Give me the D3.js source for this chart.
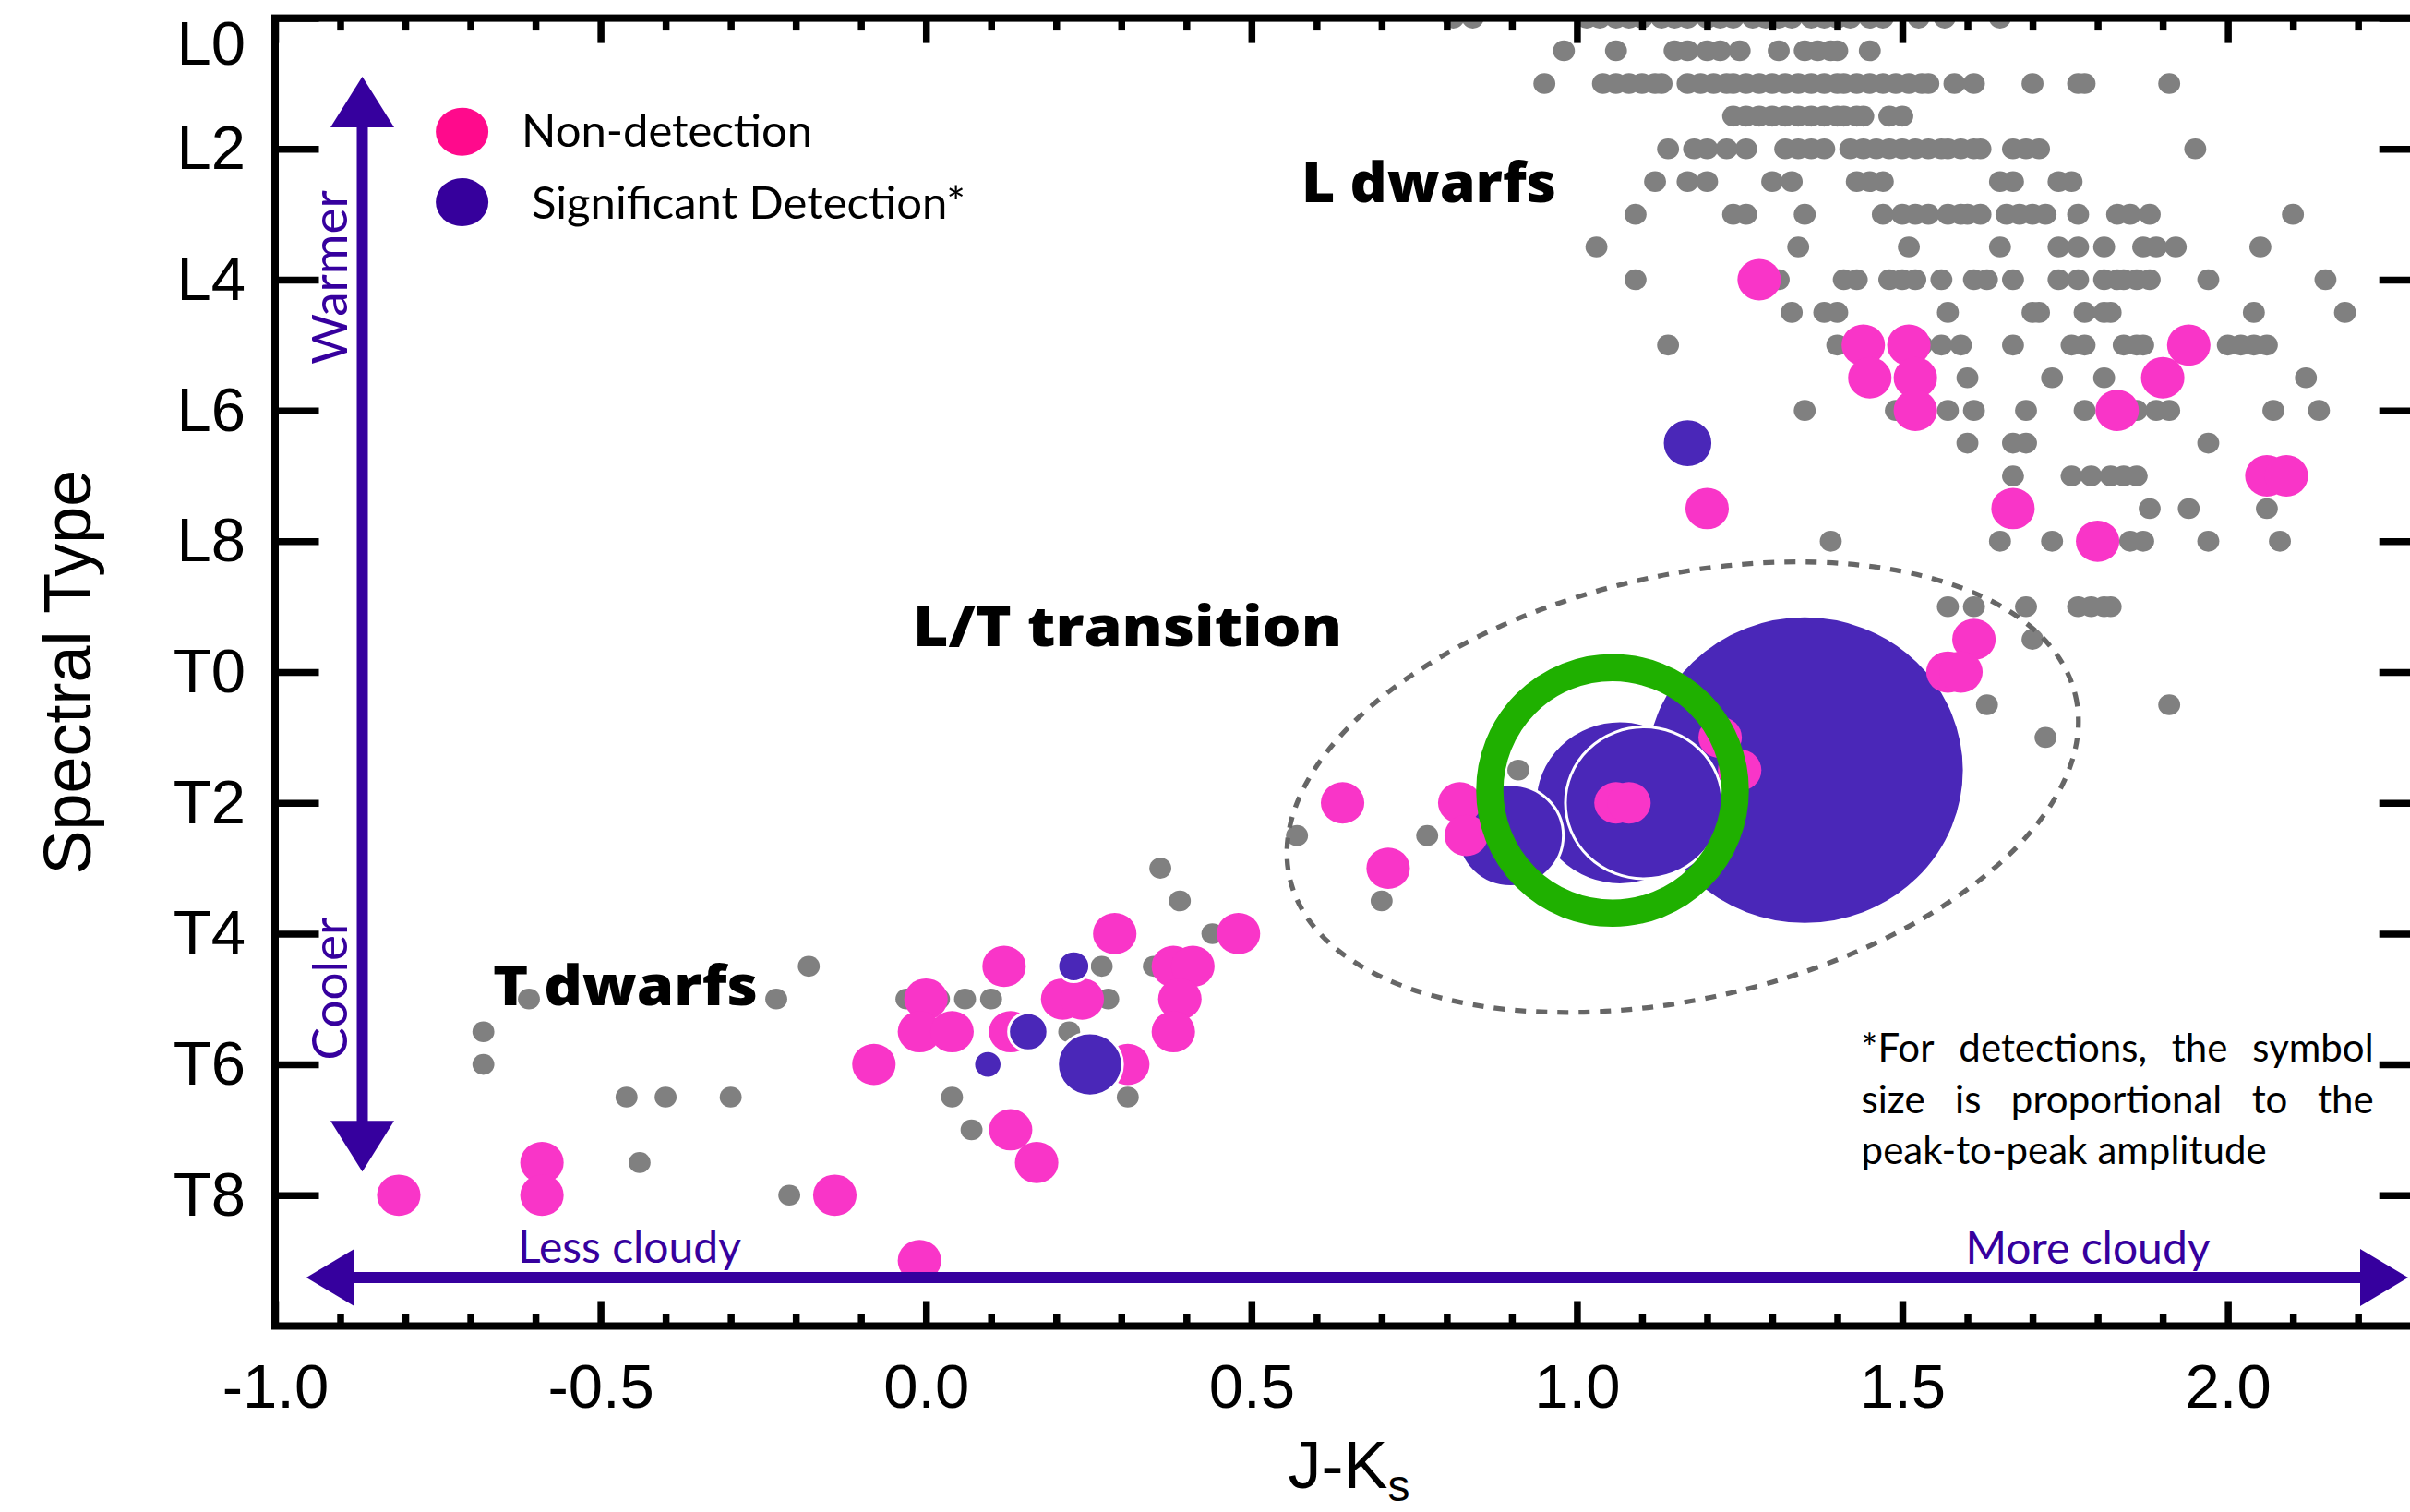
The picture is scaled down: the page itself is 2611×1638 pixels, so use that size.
<!DOCTYPE html>
<html>
<head>
<meta charset="utf-8">
<script src="https://cdn.jsdelivr.net/npm/d3@7"></script>
<style>
  html, body { margin: 0; padding: 0; background: #fff; }
  svg { display: block; }
</style>
</head>
<body>
<svg id="chart" width="2611" height="1638"></svg>
<script>
// ---------------------------------------------------------------------------
// Data: J-Ks colour vs. spectral type (0 = L0, 10 = T0, 18 = T8)
// ---------------------------------------------------------------------------

// Tick labels on the spectral-type axis (every two subtypes)
const sptTicks  = [0, 2, 4, 6, 8, 10, 12, 14, 16, 18];
const sptLabels = ["L0", "L2", "L4", "L6", "L8", "T0", "T2", "T4", "T6", "T8"];

// Colour-axis ticks
const jkMajor = [-1.0, -0.5, 0.0, 0.5, 1.0, 1.5, 2.0];

// Field L and T dwarfs, grouped by spectral type: [SpT, [J-Ks, ...]]
const fieldRows = [
  [0,    [0.81, 0.84, 1.015, 1.035, 1.06, 1.08, 1.10, 1.13, 1.15, 1.17, 1.20, 1.22, 1.24, 1.27, 1.29, 1.31, 1.33, 1.36, 1.38, 1.40, 1.42, 1.45, 1.47, 1.525, 1.565, 1.65]],
  [0.5,  [0.98, 1.06, 1.15, 1.17, 1.20, 1.22, 1.25, 1.31, 1.35, 1.37, 1.39, 1.40, 1.45]],
  [1,    [0.95, 1.04, 1.06, 1.08, 1.10, 1.12, 1.13, 1.17, 1.19, 1.21, 1.23, 1.24, 1.26, 1.28, 1.30, 1.32, 1.34, 1.36, 1.38, 1.40, 1.41, 1.43, 1.45, 1.47, 1.49, 1.51, 1.53, 1.54, 1.58, 1.61, 1.70, 1.77, 1.78, 1.91]],
  [1.5,  [1.24, 1.26, 1.28, 1.30, 1.32, 1.34, 1.36, 1.38, 1.40, 1.41, 1.43, 1.44, 1.48, 1.50]],
  [2,    [1.14, 1.18, 1.20, 1.23, 1.26, 1.32, 1.34, 1.36, 1.38, 1.42, 1.44, 1.46, 1.48, 1.50, 1.52, 1.54, 1.56, 1.57, 1.59, 1.61, 1.62, 1.67, 1.69, 1.71, 1.95]],
  [2.5,  [1.12, 1.17, 1.20, 1.30, 1.33, 1.43, 1.45, 1.47, 1.65, 1.67, 1.74, 1.76]],
  [3,    [1.09, 1.24, 1.26, 1.35, 1.47, 1.50, 1.52, 1.54, 1.57, 1.59, 1.60, 1.62, 1.66, 1.68, 1.70, 1.72, 1.77, 1.83, 1.85, 1.88, 2.10]],
  [3.5,  [1.03, 1.34, 1.51, 1.65, 1.74, 1.77, 1.81, 1.87, 1.89, 1.92, 2.05]],
  [4,    [1.09, 1.31, 1.41, 1.43, 1.48, 1.50, 1.52, 1.56, 1.61, 1.63, 1.67, 1.74, 1.77, 1.81, 1.83, 1.84, 1.86, 1.88, 1.97, 2.15]],
  [4.5,  [1.33, 1.38, 1.40, 1.57, 1.70, 1.71, 1.78, 1.81, 1.82, 2.04, 2.18]],
  [5,    [1.14, 1.40, 1.53, 1.56, 1.59, 1.67, 1.76, 1.78, 1.84, 1.86, 1.87, 2.00, 2.02, 2.04, 2.06]],
  [5.5,  [1.60, 1.73, 1.81, 2.12]],
  [6,    [1.35, 1.49, 1.57, 1.61, 1.69, 1.78, 1.86, 1.89, 1.91, 2.07, 2.14]],
  [6.5,  [1.60, 1.67, 1.69, 1.97]],
  [7,    [1.67, 1.76, 1.79, 1.82, 1.84, 1.86]],
  [7.5,  [1.88, 1.94, 2.06]],
  [8,    [1.39, 1.65, 1.73, 1.85, 1.87, 1.97, 2.08]],
  [9,    [1.57, 1.61, 1.69, 1.77, 1.79, 1.81, 1.82]],
  [9.5,  [1.70]],
  [10.5, [1.63, 1.91]],
  [11,   [1.72]],
  [11.5, [0.91]],
  [12.5, [0.57, 0.77]],
  [13,   [0.36]],
  [13.5, [0.39, 0.70]],
  [14,   [0.44]],
  [14.5, [-0.18, 0.27, 0.35]],
  [15,   [-0.61, -0.23, -0.03, 0.02, 0.06, 0.10, 0.28]],
  [15.5, [-0.68, 0.22]],
  [16,   [-0.68]],
  [16.5, [-0.46, -0.40, -0.30, 0.04, 0.31]],
  [17,   [0.07]],
  [17.5, [-0.44]],
  [18,   [-0.21]]
];

// Monitored targets without significant variability: [J-Ks, SpT]
const nonDetections = [
  [1.28, 4], [1.44, 5], [1.51, 5], [1.94, 5], [1.45, 5.5], [1.52, 5.5], [1.90, 5.5],
  [1.52, 6], [1.83, 6], [2.06, 7], [2.09, 7], [1.20, 7.5], [1.67, 7.5], [1.80, 8],
  [1.61, 9.5], [1.57, 10], [1.59, 10], [1.22, 11], [1.25, 11.5],
  [0.64, 12], [0.82, 12], [0.83, 12.5], [0.71, 13], [1.06, 12], [1.08, 12],
  [0.29, 14], [0.48, 14], [0.12, 14.5], [0.38, 14.5], [0.41, 14.5],
  [0.00, 15], [0.21, 15], [0.24, 15], [0.39, 15],
  [-0.01, 15.5], [0.04, 15.5], [0.13, 15.5], [0.38, 15.5],
  [-0.08, 16], [0.31, 16], [0.13, 17], [0.17, 17.5], [-0.14, 18],
  [-0.01, 19], [-0.81, 18], [-0.59, 17.5], [-0.59, 18]
];

// Significant detections: [J-Ks, SpT, peak-to-peak amplitude (%)]
const detections = [
  [1.35, 11.5, 26.0], [1.066, 12, 13.8], [1.103, 12, 12.8], [0.898, 12.5, 8.6],
  [1.17, 6.5, 4.1], [0.252, 16, 5.3], [0.157, 15.5, 3.2], [0.227, 14.5, 2.6], [0.095, 16, 2.3]
];

// Annotation geometry in data units
const tempArrow  = [[-0.866, 0.895], [-0.866, 17.64]];
const cloudArrow = [[-0.952, 19.26], [2.277, 19.26]];
const transitionCentre = [1.1625, 11.76];
const highlightCentre  = [1.0547, 11.81];

// ---------------------------------------------------------------------------
// Layout
// ---------------------------------------------------------------------------
const W = 2611, H = 1638;
const plot = { left: 298, top: 19.6, right: 2625.2, bottom: 1436.5 };

const x = d3.scaleLinear().domain([-1, 2.3]).range([plot.left, plot.right]);
const y = d3.scaleLinear().domain([0, 20]).range([plot.top, plot.bottom]);
const rAmp = d3.scaleLinear().domain([0, 26]).range([0, 167]);
const ASPECT = 1.035;           // symbols are slightly wider than tall

const C = {
  field: "#808080",
  non: "#f935c8",
  det: "#4a27b8",
  legendNon: "#ff0a8c",
  legendDet: "#36009c",
  arrow: "#36009e",
  green: "#1fb000",
  dash: "#666666"
};

const AX_FONT = "'Liberation Sans', Arial, Helvetica, sans-serif";
const ANN_FONT = "Lato, 'Open Sans', sans-serif";
const BOLD_FONT = "'Open Sans', Lato, sans-serif";

const svg = d3.select("#chart");
svg.append("rect").attr("width", W).attr("height", H).attr("fill", "#fff");

svg.append("defs").append("clipPath").attr("id", "plot-clip")
  .append("rect")
  .attr("x", plot.left).attr("y", plot.top)
  .attr("width", plot.right - plot.left).attr("height", plot.bottom - plot.top);

const g = svg.append("g").attr("clip-path", "url(#plot-clip)");

// Field dwarfs
const fieldPts = fieldRows.flatMap(([spt, jks]) => jks.map(jk => [jk, spt]));
g.append("g").selectAll("ellipse").data(fieldPts).join("ellipse")
  .attr("cx", d => x(d[0])).attr("cy", d => y(d[1]))
  .attr("rx", 11.5 * ASPECT).attr("ry", 11.3)
  .attr("fill", C.field);

// L/T transition region
g.append("ellipse")
  .attr("transform", `translate(${x(transitionCentre[0])},${y(transitionCentre[1])}) rotate(-13.1)`)
  .attr("rx", 437).attr("ry", 229)
  .attr("fill", "none").attr("stroke", C.dash)
  .attr("stroke-width", 5.3).attr("stroke-dasharray", "12 11");

// Large-amplitude detections go underneath so the non-detections inside them stay visible
const AMP_SPLIT = 8;
const drawDetections = (sel) => sel.selectAll("ellipse")
  .data(d => d).join("ellipse")
  .attr("cx", d => x(d[0])).attr("cy", d => y(d[1]))
  .attr("rx", d => rAmp(d[2]) * ASPECT).attr("ry", d => rAmp(d[2]))
  .attr("fill", C.det).attr("stroke", "#fff").attr("stroke-width", 3);

const bySize = detections.slice().sort((a, b) => b[2] - a[2]);
g.append("g").datum(bySize.filter(d => d[2] >= AMP_SPLIT)).call(drawDetections);

g.append("g").selectAll("ellipse").data(nonDetections).join("ellipse")
  .attr("cx", d => x(d[0])).attr("cy", d => y(d[1]))
  .attr("rx", 22.75 * ASPECT).attr("ry", 22.4)
  .attr("fill", C.non);

g.append("g").datum(bySize.filter(d => d[2] < AMP_SPLIT)).call(drawDetections);

// Highlighted object
g.append("circle")
  .attr("cx", x(highlightCentre[0])).attr("cy", y(highlightCentre[1]))
  .attr("r", 133).attr("fill", "none")
  .attr("stroke", C.green).attr("stroke-width", 29.5);

// ---------------------------------------------------------------------------
// Double-headed arrows
// ---------------------------------------------------------------------------
function doubleArrow(p0, p1, headLen, headHalf, width) {
  const x0 = x(p0[0]), y0 = y(p0[1]), x1 = x(p1[0]), y1 = y(p1[1]);
  const len = Math.hypot(x1 - x0, y1 - y0);
  const ux = (x1 - x0) / len, uy = (y1 - y0) / len;
  const nx = -uy, ny = ux;
  const ag = svg.append("g");
  ag.append("line")
    .attr("x1", x0 + ux * headLen * 0.9).attr("y1", y0 + uy * headLen * 0.9)
    .attr("x2", x1 - ux * headLen * 0.9).attr("y2", y1 - uy * headLen * 0.9)
    .attr("stroke", C.arrow).attr("stroke-width", width);
  const head = (tx, ty, dx, dy) => {
    const bx = tx - dx * headLen, by = ty - dy * headLen;
    return [[tx, ty], [bx + nx * headHalf, by + ny * headHalf], [bx - nx * headHalf, by - ny * headHalf]];
  };
  ag.selectAll("polygon").data([head(x1, y1, ux, uy), head(x0, y0, -ux, -uy)]).join("polygon")
    .attr("points", d => d.map(p => p.join(",")).join(" "))
    .attr("fill", C.arrow);
}
doubleArrow(tempArrow[0], tempArrow[1], 55, 34.5, 12);
doubleArrow(cloudArrow[0], cloudArrow[1], 52, 31, 12);

// ---------------------------------------------------------------------------
// Axes and frame
// ---------------------------------------------------------------------------
const fmt = v => v.toFixed(1);
const jkMinor = d3.range(-10, 24).map(i => i / 10).filter(v => Math.round(v * 10) % 5 !== 0);

function styleAxis(sel) {
  sel.select(".domain").remove();
  sel.selectAll(".tick line").attr("stroke", "#000").attr("stroke-width", 7.5);
  sel.selectAll(".tick text").attr("fill", "#000")
    .style("font-family", AX_FONT).style("font-size", "67px");
}

// bottom
svg.append("g").attr("transform", `translate(0,${plot.bottom})`)
  .call(d3.axisBottom(x).tickValues(jkMajor).tickFormat(fmt).tickSize(-27).tickPadding(41))
  .call(styleAxis);
svg.append("g").attr("transform", `translate(0,${plot.bottom})`)
  .call(d3.axisBottom(x).tickValues(jkMinor).tickFormat("").tickSize(-13.5))
  .call(styleAxis);
// top
svg.append("g").attr("transform", `translate(0,${plot.top})`)
  .call(d3.axisTop(x).tickValues(jkMajor).tickFormat("").tickSize(-27))
  .call(styleAxis);
svg.append("g").attr("transform", `translate(0,${plot.top})`)
  .call(d3.axisTop(x).tickValues(jkMinor).tickFormat("").tickSize(-13.5))
  .call(styleAxis);
// left
const yAxisG = svg.append("g").attr("transform", `translate(${plot.left},0)`)
  .call(d3.axisLeft(y).tickValues(sptTicks).tickFormat((d, i) => sptLabels[i]).tickSize(-47.5).tickPadding(32))
  .call(styleAxis);
yAxisG.selectAll(".tick text").filter(d => d === 0).attr("dy", "0.74em");
// right
svg.append("g").attr("transform", `translate(${plot.right},0)`)
  .call(d3.axisRight(y).tickValues(sptTicks).tickFormat("").tickSize(-47.5))
  .call(styleAxis);

svg.append("rect")
  .attr("x", plot.left).attr("y", plot.top)
  .attr("width", plot.right - plot.left).attr("height", plot.bottom - plot.top)
  .attr("fill", "none").attr("stroke", "#000").attr("stroke-width", 8);

// Axis titles
svg.append("text")
  .attr("transform", `translate(98,${(plot.top + plot.bottom) / 2}) rotate(-90)`)
  .attr("text-anchor", "middle")
  .style("font-family", AX_FONT).style("font-size", "72px")
  .text("Spectral Type");

const xt = svg.append("text")
  .attr("x", (plot.left + plot.right) / 2).attr("y", 1612)
  .attr("text-anchor", "middle")
  .style("font-family", AX_FONT).style("font-size", "72px");
xt.append("tspan").text("J-K");
xt.append("tspan").attr("dy", 14).style("font-size", "48px").text("s");

// ---------------------------------------------------------------------------
// Legend and annotations
// ---------------------------------------------------------------------------
const legend = [
  { label: "Non-detection", color: C.legendNon, cy: 142.7, tx: 565, ty: 159 },
  { label: "Significant Detection*", color: C.legendDet, cy: 219, tx: 576, ty: 237 }
];
const lg = svg.append("g");
lg.selectAll("ellipse").data(legend).join("ellipse")
  .attr("cx", 500.6).attr("cy", d => d.cy).attr("rx", 28.5).attr("ry", 26)
  .attr("fill", d => d.color);
lg.selectAll("text").data(legend).join("text")
  .attr("x", d => d.tx).attr("y", d => d.ty)
  .style("font-family", ANN_FONT).style("font-size", "49px").attr("fill", "#000")
  .text(d => d.label);

const regionLabels = [
  { text: "L dwarfs", x: 1410, y: 219, w: 276 },
  { text: "L/T transition", x: 989, y: 700, w: 465 },
  { text: "T dwarfs", x: 534, y: 1088.6, w: 287 }
];
svg.append("g").selectAll("text").data(regionLabels).join("text")
  .attr("x", d => d.x).attr("y", d => d.y)
  .attr("textLength", d => d.w).attr("lengthAdjust", "spacingAndGlyphs")
  .style("font-family", BOLD_FONT).style("font-size", "61px").style("font-weight", 800)
  .attr("fill", "#000")
  .text(d => d.text);

// Direction labels
const dirLabels = [
  { text: "Warmer", x: 376, y: 300.5, rot: true },
  { text: "Cooler", x: 376, y: 1071, rot: true },
  { text: "Less cloudy", x: 682, y: 1368, rot: false },
  { text: "More cloudy", x: 2262, y: 1369, rot: false }
];
svg.append("g").selectAll("text").data(dirLabels).join("text")
  .attr("transform", d => `translate(${d.x},${d.y})` + (d.rot ? " rotate(-90)" : ""))
  .attr("text-anchor", "middle")
  .style("font-family", ANN_FONT)
  .style("font-size", d => d.rot ? "53px" : "48px")
  .attr("fill", C.arrow)
  .text(d => d.text);

// Justified footnote
const noteLines = ["*For detections, the symbol", "size is proportional to the", "peak-to-peak amplitude"];
const note = { x: 2016.6, width: 555, y0: 1150, lead: 55.5 };
const ng = svg.append("g").style("font-family", ANN_FONT).style("font-size", "42px").attr("fill", "#000");
noteLines.forEach((line, li) => {
  const words = line.split(" ");
  const yy = note.y0 + li * note.lead;
  const nodes = words.map(w => ng.append("text").attr("y", yy).text(w));
  const widths = nodes.map(n => n.node().getComputedTextLength());
  const last = li === noteLines.length - 1;
  const space = last ? 11 : (note.width - d3.sum(widths)) / (words.length - 1);
  let cx = note.x;
  nodes.forEach((n, i) => { n.attr("x", cx); cx += widths[i] + space; });
});
</script>
</body>
</html>
